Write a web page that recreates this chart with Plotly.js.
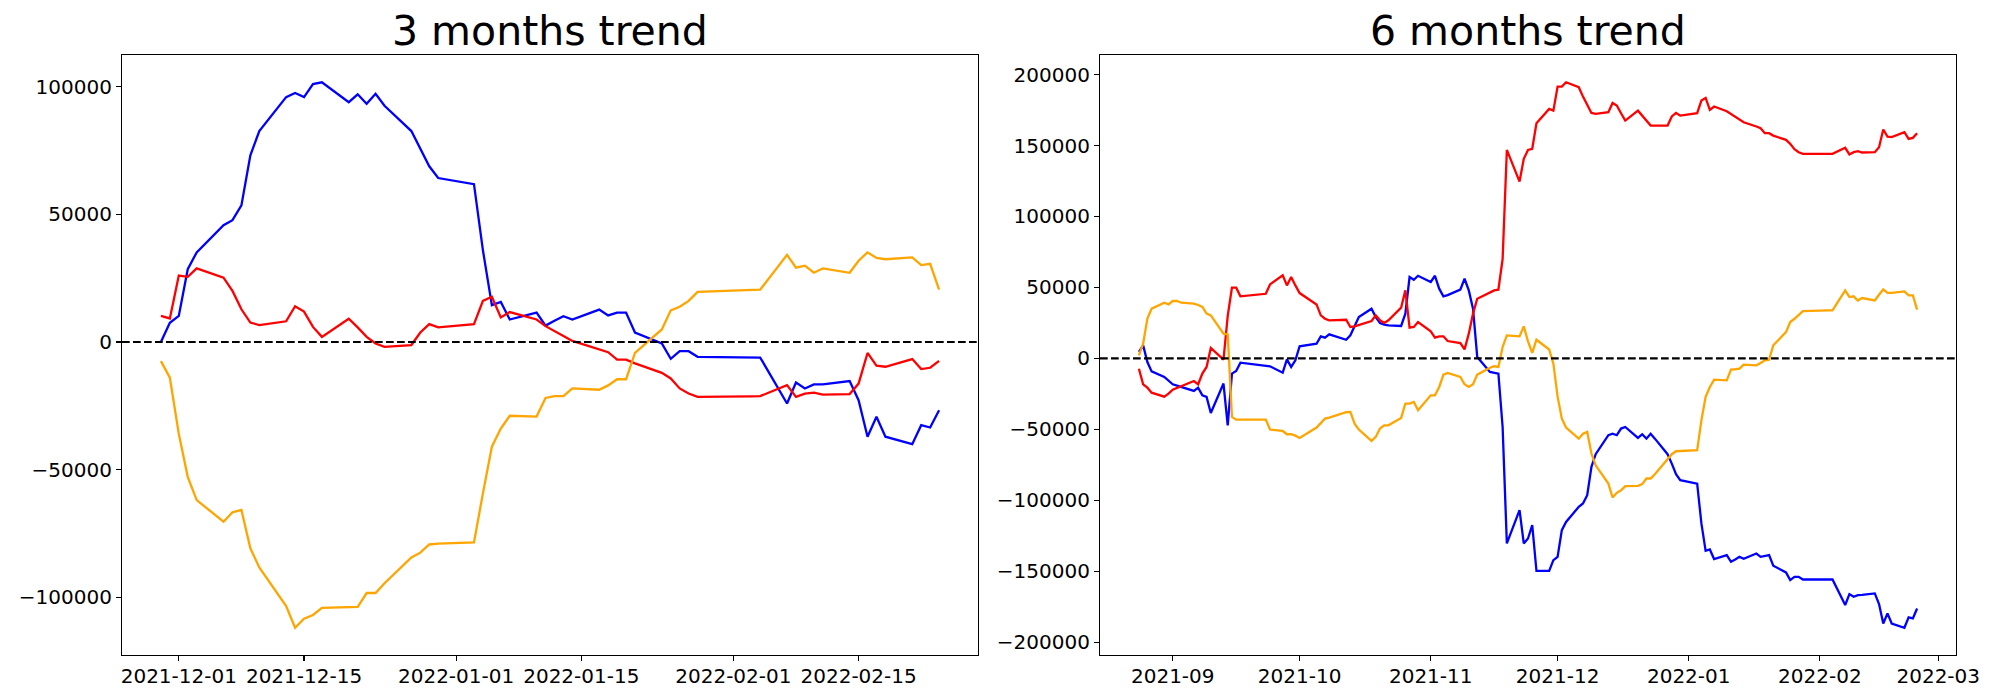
<!DOCTYPE html>
<html>
<head>
<meta charset="utf-8">
<script src="https://cdn.plot.ly/plotly-3.0.1.min.js"></script>
<style>html,body{margin:0;padding:0;background:#fff;}#chart{width:2000px;height:700px;}</style>
</head>
<body>
<div id="chart"></div>
<script>
// ---------- 3 months (60 trading days) ----------
const dates3 = [
  "2021-11-29","2021-11-30",
  "2021-12-01","2021-12-02","2021-12-03","2021-12-06","2021-12-07","2021-12-08","2021-12-09","2021-12-10",
  "2021-12-13","2021-12-14","2021-12-15","2021-12-16","2021-12-17","2021-12-20","2021-12-21","2021-12-22",
  "2021-12-23","2021-12-24","2021-12-27","2021-12-28","2021-12-29","2021-12-30",
  "2022-01-03","2022-01-04","2022-01-05","2022-01-06","2022-01-07","2022-01-10","2022-01-11","2022-01-12",
  "2022-01-13","2022-01-14","2022-01-17","2022-01-18","2022-01-19","2022-01-20","2022-01-21","2022-01-24",
  "2022-01-25","2022-01-26","2022-01-27","2022-01-28",
  "2022-02-03","2022-02-04","2022-02-07","2022-02-08","2022-02-09","2022-02-10","2022-02-11","2022-02-14",
  "2022-02-15","2022-02-16","2022-02-17","2022-02-18","2022-02-21","2022-02-22","2022-02-23","2022-02-24"
];
// values in thousands
const blue3 = [
  0, 7.5,
  10.2, 28.5, 35.1, 45.7, 47.7, 53.5, 73.1, 82.6, 95.9, 97.5, 95.9, 101.0, 101.7, 93.9, 97.0, 93.3, 97.2, 92.5, 82.6, 75.7, 68.8, 64.2,
  61.8, 35.9, 14.4, 15.7, 8.8, 11.5, 6.4, 8.3, 10.1, 8.8, 12.7, 10.4, 11.5, 11.5, 3.7, -0.6, -6.6, -3.6, -3.6, -5.8,
  -6.1, -6.1, -24.1, -15.9, -18.2, -16.6, -16.6, -15.3, -22.8, -37.1, -29.3, -37.1, -40.0, -32.6, -33.5, -26.7
];
const red3 = [
  10.2, 9.2,
  26.0, 25.5, 28.8, 25.2, 20.0, 12.8, 7.6, 6.6, 8.1, 14.0, 11.9, 5.9, 2.0, 9.1, 5.7, 2.0, -0.6, -1.9, -1.2, 3.7, 7.0, 5.7,
  7.0, 16.1, 17.7, 9.6, 11.7, 8.8, 6.2, 4.4, 2.3, 0.4, -2.9, -4.0, -6.9, -6.9, -8.4, -12.1, -14.3, -18.2, -20.2, -21.5,
  -21.3, -21.2, -16.9, -21.5, -20.2, -19.8, -20.6, -20.4, -16.3, -4.3, -9.3, -9.7, -6.7, -10.6, -10.1, -7.4
];
const orange3 = [
  -7.5, -14.0,
  -36.0, -52.8, -61.9, -70.4, -66.7, -65.8, -80.8, -88.3, -103.4, -111.9, -108.4, -106.9, -104.1, -103.9, -103.7, -98.3, -98.3, -94.5, -84.4, -82.5, -79.3, -79.0,
  -78.5, -59.3, -41.0, -33.9, -28.9, -29.2, -21.9, -21.2, -21.2, -18.2, -18.7, -17.0, -14.6, -14.6, -4.3, 4.9, 12.4, 13.8, 16.1, 19.6,
  20.4, 20.5, 34.1, 29.1, 29.9, 27.1, 28.8, 27.1, 31.8, 35.1, 32.9, 32.4, 33.1, 30.1, 30.6, 20.5
];
const xticks3 = ["2021-12-01","2021-12-15","2022-01-01","2022-01-15","2022-02-01","2022-02-15"];

// ---------- 6 months ----------
const dates6 = [
  "2021-08-24","2021-08-25","2021-08-26","2021-08-27","2021-08-30","2021-08-31",
  "2021-09-01","2021-09-02","2021-09-03","2021-09-06","2021-09-07","2021-09-08","2021-09-09","2021-09-10","2021-09-13","2021-09-14",
  "2021-09-15","2021-09-16","2021-09-17","2021-09-23","2021-09-24","2021-09-27","2021-09-28","2021-09-29","2021-09-30",
  "2021-10-01","2021-10-05","2021-10-06","2021-10-07","2021-10-08","2021-10-12","2021-10-13","2021-10-14","2021-10-15","2021-10-18",
  "2021-10-19","2021-10-20","2021-10-21","2021-10-22","2021-10-25","2021-10-26","2021-10-27","2021-10-28","2021-10-29",
  "2021-11-01","2021-11-02","2021-11-03","2021-11-04","2021-11-05","2021-11-08","2021-11-09","2021-11-10","2021-11-11","2021-11-12",
  "2021-11-15","2021-11-16","2021-11-17","2021-11-18","2021-11-19","2021-11-22","2021-11-23","2021-11-24","2021-11-25","2021-11-26",
  "2021-11-29","2021-11-30",
  "2021-12-01","2021-12-02","2021-12-03","2021-12-06","2021-12-07","2021-12-08","2021-12-09","2021-12-10","2021-12-13","2021-12-14",
  "2021-12-15","2021-12-16","2021-12-17","2021-12-20","2021-12-21","2021-12-22","2021-12-23","2021-12-24","2021-12-27","2021-12-28",
  "2021-12-29","2021-12-30",
  "2022-01-03","2022-01-04","2022-01-05","2022-01-06","2022-01-07","2022-01-10","2022-01-11","2022-01-12","2022-01-13","2022-01-14",
  "2022-01-17","2022-01-18","2022-01-19","2022-01-20","2022-01-21","2022-01-24","2022-01-25","2022-01-26","2022-01-27","2022-01-28",
  "2022-02-03","2022-02-04","2022-02-07","2022-02-08","2022-02-09","2022-02-10","2022-02-11","2022-02-14","2022-02-15","2022-02-16",
  "2022-02-17","2022-02-18","2022-02-21","2022-02-22","2022-02-23","2022-02-24"
];
const blue6 = [
  4.5, 9.2, -2.6, -9.2, -13.1, -15.5,
  -18.3, -19.2, -20.2, -23.0, -20.7, -26.1, -27.2, -38.5, -17.8, -47.2, -10.8, -8.9, -3.1, -4.9, -5.6, -10.1, -0.7, -6.1, -1.4,
  8.5, 10.3, 15.5, 14.6, 16.9, 13.1, 16.2, 22.8, 29.1, 35.0, 29.1, 24.9, 23.7, 23.2, 22.8, 31.5, 57.3, 55.4, 58.2,
  53.8, 58.2, 49.1, 43.7, 44.6, 48.4, 56.1, 47.9, 35.0, 0.9, -9.6, -10.3, -10.8, -48.4, -130.5, -107.0, -130.5, -127.0, -117.6, -149.8, -149.8, -142.3,
  -139.9, -121.1, -115.3, -104.7, -102.3, -96.5, -76.5, -67.6, -54.2, -53.1, -54.2, -49.5, -48.4, -56.1, -53.5, -56.6, -53.1, -56.6, -67.6, -74.2, -81.7, -85.9,
  -88.3, -116.4, -135.7, -134.7, -141.5, -138.7, -143.4, -141.8, -139.9, -141.3, -137.6, -139.9, -139.2, -138.7, -146.2, -150.9, -156.3, -154.0, -154.0, -155.9,
  -155.9, -155.9, -173.9, -166.2, -168.1, -166.9, -166.7, -165.7, -173.2, -186.9, -179.8, -186.9, -189.9, -182.6, -183.3, -176.3
];
const red6 = [
  -7.3, -18.3, -20.7, -24.2, -27.0, -24.9,
  -22.1, -20.9, -19.7, -16.0, -18.3, -10.8, -6.1, 7.3, -0.9, 30.0, 49.8, 49.8, 43.7, 45.5, 52.1, 58.5, 51.4, 57.3, 51.4,
  46.0, 38.0, 30.3, 27.9, 26.8, 27.2, 22.1, 22.5, 23.5, 26.3, 30.3, 26.8, 24.9, 26.8, 35.7, 47.9, 21.6, 22.1, 25.6,
  19.0, 14.6, 15.5, 15.5, 12.2, 10.8, 6.3, 17.4, 31.5, 42.0, 46.7, 47.9, 48.4, 70.0, 146.9, 124.6, 140.6, 146.9, 147.7, 165.7, 175.8, 174.6,
  191.5, 191.5, 194.6, 191.1, 184.5, 178.2, 173.0, 172.3, 173.5, 180.0, 178.2, 172.8, 167.6, 174.6, 171.1, 167.1, 164.1, 164.1, 164.1, 170.5, 173.0, 171.1,
  172.8, 181.7, 183.6, 175.1, 177.5, 174.2, 172.3, 170.0, 168.1, 166.4, 163.4, 162.2, 158.7, 158.7, 157.0, 154.0, 151.2, 147.4, 145.3, 144.1,
  144.1, 144.1, 148.4, 143.7, 145.3, 146.0, 145.1, 145.3, 148.8, 161.3, 156.3, 155.9, 159.4, 154.7, 155.4, 158.7
];
const orange6 = [
  2.1, 10.3, 28.0, 35.0, 39.2, 38.0,
  40.4, 40.4, 39.2, 38.5, 37.6, 36.2, 31.5, 30.3, 17.4, 16.9, -41.3, -43.2, -43.2, -43.2, -50.2, -51.2, -53.5, -53.5, -54.5,
  -56.1, -48.8, -46.0, -42.5, -41.8, -38.0, -37.8, -46.0, -50.2, -58.2, -55.4, -49.5, -47.2, -47.2, -42.0, -31.9, -31.9, -30.8, -36.6,
  -26.1, -26.1, -20.2, -11.5, -10.3, -13.1, -18.3, -20.2, -18.3, -11.5, -6.6, -5.6, -6.1, 8.0, 16.2, 15.5, 22.5, 12.0, 3.8, 13.1, 6.2, -3.8,
  -27.0, -42.5, -48.8, -56.6, -53.1, -51.9, -67.1, -75.4, -88.3, -98.1, -94.8, -93.0, -90.1, -89.9, -88.7, -84.7, -84.7, -81.7, -70.7, -67.6, -65.5, -65.3,
  -64.8, -43.7, -27.2, -20.2, -15.0, -15.5, -8.0, -7.7, -7.3, -4.5, -4.9, -3.3, -1.4, -0.9, 9.2, 18.5, 25.6, 27.9, 30.3, 33.3,
  33.8, 33.8, 47.9, 43.2, 43.7, 40.8, 42.5, 40.8, 44.8, 48.6, 46.2, 46.2, 47.2, 44.4, 44.4, 34.3
];
const xticks6 = ["2021-09-01","2021-10-01","2021-11-01","2021-12-01","2022-01-01","2022-02-01","2022-03-01"];
const titles = ["3 months trend", "6 months trend"];

const k = a => a.map(v => v * 1000);
function xRange(d) {
  const t0 = new Date(d[0] + "T00:00:00Z").getTime(), t1 = new Date(d[d.length - 1] + "T00:00:00Z").getTime();
  const m = (t1 - t0) * 0.05;
  const f = t => new Date(t).toISOString().replace("T", " ").slice(0, 19);
  return [f(t0 - m), f(t1 + m)];
}
function yRange(...arrs) {
  const all = [].concat(...arrs).map(v => v * 1000);
  const lo = Math.min(...all), hi = Math.max(...all), m = (hi - lo) * 0.05;
  return [lo - m, hi + m];
}

const lw = 2.3;
function tr(x, y, color, xa, ya) {
  return {x: x, y: k(y), type: "scatter", mode: "lines", line: {color: color, width: lw},
          xaxis: xa, yaxis: ya, showlegend: false, hoverinfo: "skip"};
}
const data = [
  tr(dates3, blue3, "#0000ff", "x", "y"),
  tr(dates3, red3, "#ff0000", "x", "y"),
  tr(dates3, orange3, "#ffa500", "x", "y"),
  tr(dates6, blue6, "#0000ff", "x2", "y2"),
  tr(dates6, red6, "#ff0000", "x2", "y2"),
  tr(dates6, orange6, "#ffa500", "x2", "y2")
];

const font = "DejaVu Sans, Arial, sans-serif";
const axBase = {
  showgrid: false, zeroline: false, showline: true, mirror: true, linecolor: "#000", linewidth: 1.1,
  ticks: "outside", ticklen: 5, tickwidth: 1.1, tickcolor: "#000",
  tickfont: {family: font, size: 20, color: "#000"}
};
const yDom = [45 / 700, 645 / 700];
const layout = {
  width: 2000, height: 700,
  margin: {l: 0, r: 0, t: 0, b: 0},
  paper_bgcolor: "#fff", plot_bgcolor: "#fff",
  xaxis: Object.assign({}, axBase, {domain: [122 / 2000, 978 / 2000], anchor: "y", type: "date",
    range: xRange(dates3), tickvals: xticks3, tickformat: "%Y-%m-%d", ticklabelstandoff: -2}),
  yaxis: Object.assign({}, axBase, {domain: yDom, anchor: "x", range: yRange(blue3, red3, orange3),
    tick0: 0, dtick: 50000, tickformat: "d"}),
  xaxis2: Object.assign({}, axBase, {domain: [1100 / 2000, 1956 / 2000], anchor: "y2", type: "date",
    range: xRange(dates6), tickvals: xticks6, tickformat: "%Y-%m", ticklabelstandoff: -2}),
  yaxis2: Object.assign({}, axBase, {domain: yDom, anchor: "x2", range: yRange(blue6, red6, orange6),
    tick0: 0, dtick: 50000, tickformat: "d"}),
  shapes: [
    {type: "line", xref: "x domain", x0: 0, x1: 1, yref: "y", y0: 0, y1: 0,
     line: {color: "#000", width: 2.1, dash: "7.7px,3.3px"}},
    {type: "line", xref: "x2 domain", x0: 0, x1: 1, yref: "y2", y0: 0, y1: 0,
     line: {color: "#000", width: 2.1, dash: "7.7px,3.3px"}}
  ],
  annotations: [
    {text: titles[0], xref: "paper", yref: "paper", x: 550 / 2000, y: 0.918, xanchor: "center", yanchor: "bottom",
     showarrow: false, font: {family: font, size: 41, color: "#000"}},
    {text: titles[1], xref: "paper", yref: "paper", x: 1528 / 2000, y: 0.918, xanchor: "center", yanchor: "bottom",
     showarrow: false, font: {family: font, size: 41, color: "#000"}}
  ]
};
Plotly.newPlot("chart", data, layout, {displayModeBar: false, staticPlot: true});
</script>
</body>
</html>
